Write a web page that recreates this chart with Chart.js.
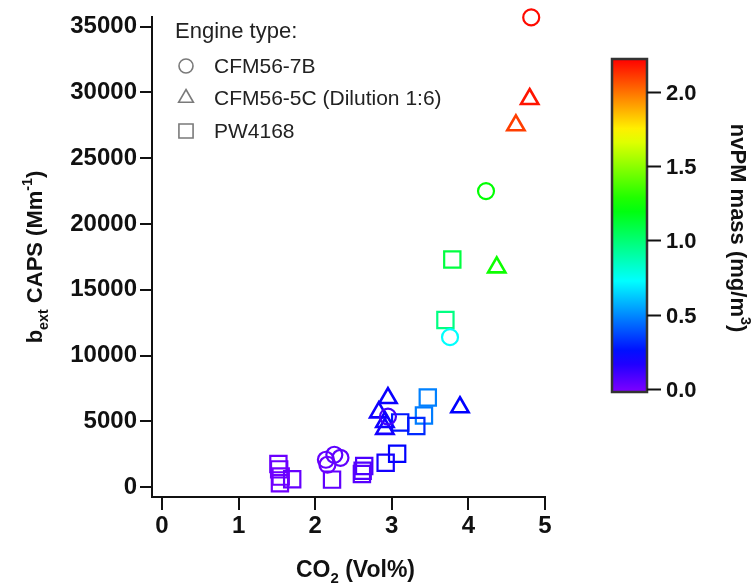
<!DOCTYPE html>
<html>
<head>
<meta charset="utf-8">
<script src="https://cdn.jsdelivr.net/npm/chart.js@4/dist/chart.umd.min.js"></script>
<style>
  html, body { margin: 0; padding: 0; background: #fff; }
  #wrap { width: 751px; height: 583px; }
</style>
</head>
<body>
<div id="wrap"><canvas id="myChart" width="751" height="583"></canvas></div>
<script>
// axis ticks
const xTicks = [0, 1, 2, 3, 4, 5];
const yTicks = [0, 5000, 10000, 15000, 20000, 25000, 30000, 35000];
const massTicks = [0.0, 0.5, 1.0, 1.5, 2.0];

const engineNames = ['CFM56-7B', 'CFM56-5C (Dilution 1:6)', 'PW4168'];

// CFM56-7B
const cfm7bCO2  = [4.82, 4.23, 3.76, 2.14, 2.25, 2.33, 2.16, 2.95];
const cfm7bBext = [35700, 22500, 11400, 2080, 2460, 2230, 1700, 5360];
const cfm7bMass = [2.20, 1.22, 0.73, 0.03, 0.05, 0.04, 0.02, 0.10];

// CFM56-5C, dilution 1:6
const cfm5cCO2  = [4.80, 4.62, 4.37, 3.89, 2.95, 2.83, 2.91, 2.91];
const cfm5cBext = [29500, 27500, 16700, 6070, 6770, 5680, 4950, 4430];
const cfm5cMass = [2.18, 2.10, 1.25, 0.23, 0.21, 0.20, 0.20, 0.19];

// PW4168
const pwCO2  = [3.79, 3.70, 3.47, 3.42, 3.32, 3.11, 3.07, 2.92, 2.64, 2.62, 2.61, 2.22, 1.52, 1.53, 1.55, 1.54, 1.70];
const pwBext = [17300, 12700, 6810, 5450, 4650, 4920, 2530, 1850, 1600, 1250, 1000, 570, 1750, 1350, 800, 300, 600];
const pwMass = [1.10, 0.97, 0.48, 0.47, 0.31, 0.27, 0.23, 0.19, 0.08, 0.07, 0.06, 0.04, 0.02, 0.02, 0.01, 0.01, 0.03];

// colour scale range (rainbow, violet -> red)
const massMin = -0.02;
const massMax = 2.22;

function massColor(v) {
    var f = (v - massMin) / (massMax - massMin);
    f = Math.max(0, Math.min(1, f));
    return 'hsl(' + (270 * (1 - f)).toFixed(1) + ',100%,50%)';
}

function toPoints(xs, ys) {
    return xs.map(function (x, i) { return { x: x, y: ys[i] }; });
}

var FONT = '"Liberation Sans", Arial, Helvetica, sans-serif';

// text with sub/superscript pieces
function richWidth(ctx, parts, size, weight) {
    var w = 0;
    parts.forEach(function (p) {
        var s = p.sub || p.sup ? size * 0.65 : size;
        ctx.font = weight + ' ' + s + 'px ' + FONT;
        w += ctx.measureText(p.t).width;
    });
    return w;
}
function drawRich(ctx, parts, cx, baseline, size, weight) {
    var x = cx - richWidth(ctx, parts, size, weight) / 2;
    ctx.textAlign = 'left';
    ctx.textBaseline = 'alphabetic';
    parts.forEach(function (p) {
        var s = p.sub || p.sup ? size * 0.65 : size;
        var dy = p.sub ? size * 0.25 : (p.sup ? -size * 0.45 : 0);
        ctx.font = weight + ' ' + s + 'px ' + FONT;
        ctx.fillText(p.t, x, baseline + dy);
        x += ctx.measureText(p.t).width;
    });
}

function markerPath(ctx, style, x, y, r) {
    ctx.beginPath();
    if (style === 'circle') {
        ctx.arc(x, y, r, 0, Math.PI * 2);
    } else if (style === 'triangle') {
        for (var k = 0; k < 3; k++) {
            var a = k * 2 * Math.PI / 3;
            var px = x + Math.sin(a) * r, py = y - Math.cos(a) * r;
            if (k === 0) ctx.moveTo(px, py); else ctx.lineTo(px, py);
        }
        ctx.closePath();
    } else {
        var h = r * Math.SQRT1_2;
        ctx.rect(x - h, y - h, 2 * h, 2 * h);
    }
}

const decorations = {
    id: 'decorations',
    afterDraw: function (chart) {
        var ctx = chart.ctx;
        var area = chart.chartArea;
        ctx.save();
        ctx.fillStyle = '#111';

        // axis titles
        drawRich(ctx, [{ t: 'CO' }, { t: '2', sub: true }, { t: ' (Vol%)' }],
            (area.left + area.right) / 2 + 7, 577, 23, 'bold');
        ctx.save();
        ctx.translate(42, 257);
        ctx.rotate(-Math.PI / 2);
        drawRich(ctx, [{ t: 'b' }, { t: 'ext', sub: true }, { t: ' CAPS (Mm' }, { t: '-1', sup: true }, { t: ')' }],
            0, 0, 22, 'bold');
        ctx.restore();

        // legend
        ctx.fillStyle = '#222';
        ctx.font = '22px ' + FONT;
        ctx.textAlign = 'left';
        ctx.textBaseline = 'alphabetic';
        ctx.fillText('Engine type:', 175, 38);
        var styles = ['circle', 'triangle', 'rect'];
        var radii = [7, 8.5, 10];
        var rowY = [66, 98, 131];
        styles.forEach(function (st, i) {
            ctx.strokeStyle = '#7a7a7a';
            ctx.lineWidth = 1.6;
            markerPath(ctx, st, 186, rowY[i], radii[i]);
            ctx.stroke();
            ctx.fillStyle = '#222';
            ctx.font = '21px ' + FONT;
            ctx.fillText(engineNames[i], 214, rowY[i] + 7);
        });

        // colour bar
        var bx = 612, bw = 35, bTop = 59, bBot = 392;
        var yOf = function (v) { return bBot - (v - massMin) / (massMax - massMin) * (bBot - bTop); };
        var grad = ctx.createLinearGradient(0, bBot, 0, bTop);
        for (var s = 0; s <= 24; s++) {
            var v = massMin + (massMax - massMin) * s / 24;
            grad.addColorStop(s / 24, massColor(v));
        }
        ctx.fillStyle = grad;
        ctx.fillRect(bx, bTop, bw, bBot - bTop);
        ctx.strokeStyle = '#333';
        ctx.lineWidth = 2.5;
        ctx.strokeRect(bx, bTop, bw, bBot - bTop);

        ctx.strokeStyle = '#111';
        ctx.lineWidth = 2;
        ctx.fillStyle = '#111';
        ctx.font = 'bold 22px ' + FONT;
        ctx.textBaseline = 'middle';
        massTicks.forEach(function (t) {
            var y = Math.round(yOf(t)) + 0.5;
            ctx.beginPath();
            ctx.moveTo(bx + bw, y);
            ctx.lineTo(bx + bw + 14, y);
            ctx.stroke();
            ctx.fillText(t.toFixed(1), bx + bw + 19, y + 1);
        });

        ctx.save();
        ctx.translate(731, 228);
        ctx.rotate(Math.PI / 2);
        ctx.fillStyle = '#111';
        drawRich(ctx, [{ t: 'nvPM mass (mg/m' }, { t: '3', sup: true }, { t: ')' }], 0, 0, 22, 'bold');
        ctx.restore();

        ctx.restore();
    }
};

var ctx = document.getElementById('myChart').getContext('2d');
var myChart = new Chart(ctx, {
    type: 'scatter',
    data: {
        datasets: [{
            label: engineNames[0],
            data: toPoints(cfm7bCO2, cfm7bBext),
            clip: false,
            pointStyle: 'circle',
            pointRadius: 8,
            pointBorderWidth: 2.2,
            pointBackgroundColor: 'rgba(0,0,0,0)',
            pointBorderColor: cfm7bMass.map(massColor)
        }, {
            label: engineNames[1],
            data: toPoints(cfm5cCO2, cfm5cBext),
            clip: false,
            pointStyle: 'triangle',
            pointRadius: 10,
            pointBorderWidth: 2.6,
            pointBackgroundColor: 'rgba(0,0,0,0)',
            pointBorderColor: cfm5cMass.map(massColor)
        }, {
            label: engineNames[2],
            data: toPoints(pwCO2, pwBext),
            clip: false,
            pointStyle: 'rect',
            pointRadius: 11.5,
            pointBorderWidth: 2.2,
            pointBackgroundColor: 'rgba(0,0,0,0)',
            pointBorderColor: pwMass.map(massColor)
        }]
    },
    options: {
        responsive: false,
        animation: false,
        devicePixelRatio: 1,
        layout: { padding: { top: 15, right: 206, left: 0, bottom: 0 } },
        plugins: {
            legend: { display: false },
            tooltip: { enabled: false }
        },
        scales: {
            x: {
                type: 'linear',
                min: -0.13,
                max: 5,
                afterBuildTicks: function (scale) {
                    scale.ticks = xTicks.map(function (v) { return { value: v }; });
                },
                afterFit: function (scale) { scale.height = 86; },
                border: { display: true, color: '#111', width: 2 },
                grid: { drawOnChartArea: false, color: '#111', lineWidth: 2, tickLength: 13 },
                ticks: {
                    color: '#111',
                    padding: 2,
                    maxRotation: 0,
                    font: { family: FONT, size: 24, weight: 'bold' },
                    callback: function (v) { return String(v); }
                }
            },
            y: {
                type: 'linear',
                min: -750,
                max: 35700,
                afterBuildTicks: function (scale) {
                    scale.ticks = yTicks.map(function (v) { return { value: v }; });
                },
                afterFit: function (scale) { scale.width = 152; },
                border: { display: true, color: '#111', width: 2 },
                grid: { drawOnChartArea: false, color: '#111', lineWidth: 2, tickLength: 12 },
                ticks: {
                    color: '#111',
                    padding: 3,
                    font: { family: FONT, size: 24, weight: 'bold' },
                    callback: function (v) { return String(v); }
                }
            }
        }
    },
    plugins: [decorations]
});
</script>
</body>
</html>
